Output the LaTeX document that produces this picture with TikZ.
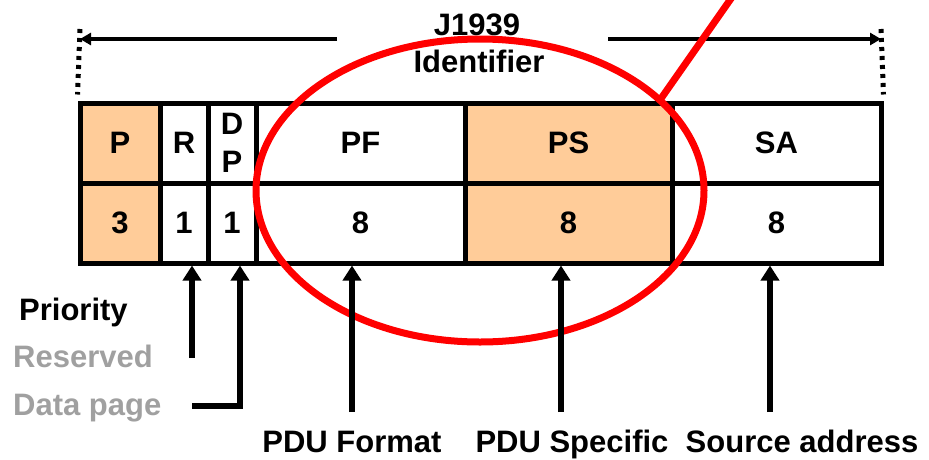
\documentclass[tikz,border=0pt]{standalone}
\usepackage{fontspec}
\setmainfont{Liberation Sans}
\usetikzlibrary{arrows.meta}
\definecolor{pgnfill}{RGB}{255,204,153}
\definecolor{labelgray}{RGB}{160,160,160}
\newcommand{\bigfont}{\fontsize{31}{38}\selectfont\bfseries}
\tikzset{
  cellbox/.style={draw, line width=5pt, minimum height=80pt, inner sep=0pt, align=center, font=\bigfont},
  textlabel/.style={inner sep=0pt, font=\bigfont},
  graylabel/.style={textlabel, text=labelgray},
  spandots/.style={line width=5pt, dash pattern=on 4pt off 5pt},
  spanarrow/.style={line width=4pt, -{Triangle[length=11pt, width=12pt]}},
  bitarrow/.style={line width=5.5pt, -{Triangle[length=15pt, width=18pt]}},
  pgnring/.style={red, line width=7pt}
}
\begin{document}
\begin{tikzpicture}[x=1pt, y=-1pt]
    \useasboundingbox (0,0) rectangle (929,459);

    % Identifier fields: name, bits
    \foreach \name/\xl/\xr/\lbl/\bits/\clr in {p/80/160/P/3/pgnfill, r/160/208/R/1/white, dp/208/256/{D\\P}/1/white, pf/256/465/PF/8/white, ps/465/672/PS/8/pgnfill, sa/672/881/SA/8/white} {
        \pgfmathsetmacro{\w}{\xr-\xl}
        \pgfmathsetmacro{\xc}{(\xl+\xr)/2}
        \node[cellbox, fill=\clr, minimum width=\w pt] (\name-top) at (\xc,143) {\lbl};
        \node[cellbox, fill=\clr, minimum width=\w pt] (\name-bit) at (\xc,223) {\bits};
    }

    % J1939 identifier span
    \node[textlabel, anchor=base] (id-num) at (477,35) {J1939};
    \node[textlabel, anchor=base] (id-name) at (479,72) {Identifier};
    \coordinate (span-left) at (80,29);
    \coordinate (span-right) at (881,29);
    \draw[spandots] (span-left) -- ([yshift=6pt]p-top.north west);
    \draw[spandots] (span-right) -- ([yshift=6pt]sa-top.north east);
    \coordinate (span-l) at (337,39);
    \coordinate (span-r) at (608,39);
    \draw[spanarrow] (span-l) -- (span-l -| span-left);
    \draw[spanarrow] (span-r) -- (span-r -| span-right);

    % PGN ring
    \draw[pgnring] (480,190.5) ellipse [x radius=224, y radius=151.5];
    \coordinate (ring-hook) at (660,100);
    \coordinate (ring-out) at (737,-10);
    \draw[pgnring] (ring-hook) -- (ring-out);

    % Field names
    \node[textlabel, anchor=base west] (lbl-p) at (19,320) {Priority};
    \node[graylabel, anchor=base west] (lbl-r) at (13,367) {Reserved};
    \node[graylabel, anchor=base west] (lbl-dp) at (13,415) {Data page};
    \node[textlabel, anchor=base] (lbl-pf) at (352,452) {PDU Format};
    \node[textlabel, anchor=base] (lbl-ps) at (572,452) {PDU Specific};
    \node[textlabel, anchor=base] (lbl-sa) at (802,452) {Source address};

    % Pointers up to the fields
    \coordinate (r-tail) at (192,358);
    \coordinate (dp-tail) at (192,406);
    \coordinate (pf-tail) at (352,412);
    \coordinate (ps-tail) at (561,412);
    \coordinate (sa-tail) at (770,412);
    \draw[bitarrow] (r-tail) -- (r-tail |- r-bit.south);
    \draw[bitarrow] (dp-tail) -| ([xshift=8pt]dp-bit.south);
    \foreach \name in {pf,ps,sa} {
        \draw[bitarrow] (\name-tail) -- (\name-tail |- \name-bit.south);
    }
\end{tikzpicture}
\end{document}
